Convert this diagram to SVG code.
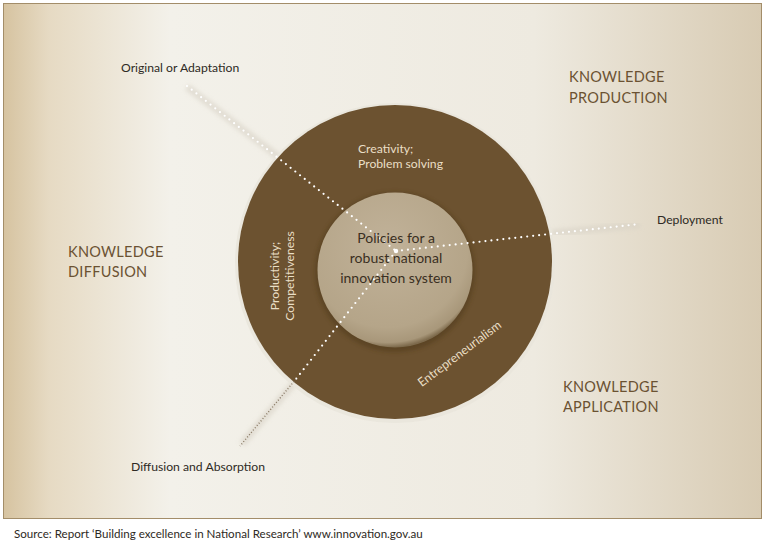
<svg xmlns="http://www.w3.org/2000/svg" width="764" height="547" viewBox="0 0 764 547">
<defs>
<linearGradient id="bg" x1="0" y1="0" x2="1" y2="0">
<stop offset="0" stop-color="#d6c3a0"/>
<stop offset="0.06" stop-color="#e6dac3"/>
<stop offset="0.22" stop-color="#f3f1ea"/>
<stop offset="0.7" stop-color="#eeeae0"/>
<stop offset="1" stop-color="#d8cbb3"/>
</linearGradient>
<radialGradient id="inner" cx="0.45" cy="0.35" r="0.65">
<stop offset="0" stop-color="#c1b299"/>
<stop offset="0.8" stop-color="#b5a589"/>
<stop offset="0.95" stop-color="#a8977a"/>
<stop offset="1" stop-color="#7d6a4c"/>
</radialGradient>
<filter id="glow" x="-20%" y="-20%" width="140%" height="140%">
<feGaussianBlur stdDeviation="2"/>
</filter>
<style>
.t{font-family:"Lato","Open Sans",sans-serif;}
.lbl{font-size:12.2px;fill:#2e2a24;}
.kn{font-size:14.5px;fill:#6b5232;letter-spacing:0.3px;}
.cr{font-size:12.2px;fill:#eadfc6;}
.ctr{font-size:14px;fill:#3a2f22;text-anchor:middle;}
.dot{stroke:#ffffff;stroke-width:2.2;stroke-linecap:round;stroke-dasharray:0 6;fill:none;}
.glow{stroke:#d8d2c6;stroke-width:7;fill:none;opacity:0.6;}
</style>
</defs>
<rect x="3.5" y="3.5" width="758" height="515" fill="url(#bg)" stroke="#a38d69" stroke-width="1"/>
<g id="connectors-glow">
<line class="glow" x1="187" y1="87" x2="280" y2="158" filter="url(#glow)"/>
<line class="glow" x1="552" y1="233" x2="640" y2="225" filter="url(#glow)"/>
<line class="glow" x1="242" y1="444" x2="295" y2="382" filter="url(#glow)"/>
</g>
<g id="outer-ring">
<circle cx="395" cy="263" r="160" fill="#e9e5dc" opacity="0.9"/>
<circle cx="395" cy="262" r="157" fill="#6c5230"/>
</g>
<g id="inner-circle">
<circle cx="395" cy="272" r="80" fill="#4a3618" opacity="0.45" filter="url(#glow)"/>
<circle cx="395" cy="270" r="77.5" fill="url(#inner)"/>
</g>
<g id="connectors">
<path class="dot" d="M187 86 L396 251"/>
<path class="dot" d="M396 251 L640 224"/>
<path class="dot" d="M396 251 L296 379"/>
<path d="M296 379 L240 446" stroke="#8a7a66" stroke-width="1.4" stroke-dasharray="1 2" fill="none"/>
<circle cx="396" cy="251" r="2.2" fill="#ffffff"/>
</g>
<g id="label-original"><text class="t lbl" x="121" y="72">Original or Adaptation</text></g>
<g id="label-production"><text class="t kn" x="569" y="82">KNOWLEDGE</text><text class="t kn" x="569" y="103">PRODUCTION</text></g>
<g id="label-diffusion"><text class="t kn" x="68" y="257">KNOWLEDGE</text><text class="t kn" x="68" y="277">DIFFUSION</text></g>
<g id="label-application"><text class="t kn" x="563" y="392">KNOWLEDGE</text><text class="t kn" x="563" y="412">APPLICATION</text></g>
<g id="label-deployment"><text class="t lbl" x="657" y="224">Deployment</text></g>
<g id="label-absorption"><text class="t lbl" x="131" y="471">Diffusion and Absorption</text></g>
<g id="label-creativity"><text class="t cr" x="358" y="153">Creativity;</text><text class="t cr" x="358" y="168">Problem solving</text></g>
<g id="label-productivity"><text class="t cr" transform="translate(279,276) rotate(-90)" text-anchor="middle">Productivity;</text><text class="t cr" transform="translate(294,276) rotate(-90)" text-anchor="middle">Competitiveness</text></g>
<g id="label-entrepreneurialism"><text class="t cr" transform="translate(462,357) rotate(-37)" text-anchor="middle">Entrepreneurialism</text></g>
<g id="label-center"><text class="t ctr" x="396" y="243">Policies for a</text><text class="t ctr" x="396" y="263">robust national</text><text class="t ctr" x="396" y="283">innovation system</text></g>
<g id="source"><text class="t" x="14" y="538" font-size="11.6" fill="#2e2a24">Source: Report ‘Building excellence in National Research’ www.innovation.gov.au</text></g>
</svg>
